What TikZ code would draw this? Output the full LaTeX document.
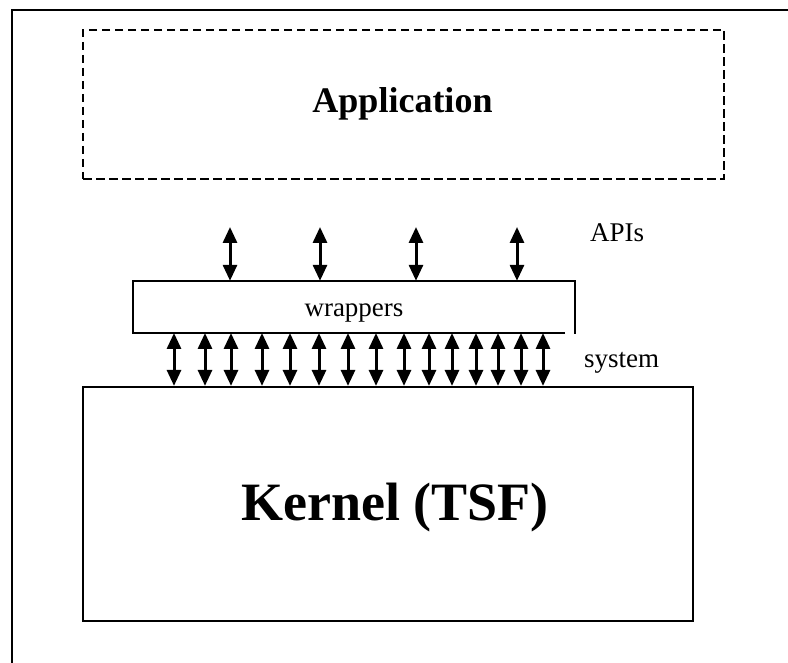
\documentclass[tikz,border=0pt]{standalone}
\usepackage{fontspec}
\setmainfont{Liberation Serif}
\usetikzlibrary{arrows.meta}
\begin{document}
\begin{tikzpicture}[x=1pt,y=-1pt,
  frame/.style={line width=2.4pt},
  boxline/.style={draw, line width=2.2pt, inner sep=0pt},
  dashbox/.style={draw, line width=2pt, inner sep=0pt, dash pattern=on 8.5pt off 4.5pt},
  dblarrow/.style={line width=3pt, {Triangle[length=16pt,width=14pt]}-{Triangle[length=16pt,width=14pt]}},
  small/.style={font=\fontsize{27}{30}\selectfont},
]
\useasboundingbox (0,0) rectangle (788,663);
% outer frame (only top and left visible)
\draw[frame] (12,663) -- (12,10) -- (790,10);

% Application box
\node[dashbox, minimum width=641pt, minimum height=149pt] (app) at (403.5,104.5) {};
\node[anchor=base, font=\bfseries\fontsize{36}{40}\selectfont] (apptext) at (402.5,113) {Application};

% wrappers box (bottom edge stops short of right edge)
\node[inner sep=0pt, minimum width=442pt, minimum height=52pt] (wrap) at (354,307) {};
\draw[line width=2pt] ([xshift=-10pt]wrap.south east) -- (wrap.south west) -- (wrap.north west) -- (wrap.north east) -- ([yshift=-1pt]wrap.south east);
\node[anchor=base, small] (wraptext) at (354,317) {wrappers};

% Kernel box
\node[boxline, minimum width=610pt, minimum height=234pt] (kernel) at (388,504) {};
\node[anchor=base, font=\bfseries\fontsize{54}{60}\selectfont] (kerneltext) at (395,520) {Kernel (TSF)};

% labels
\node[anchor=base west, small, inner sep=0pt] (apis) at (590,242) {APIs};
\node[anchor=base west, small, inner sep=0pt] (system) at (584,367) {system};

% API arrows
\foreach \x [count=\i] in {230,320,416,517} {
  \coordinate (api\i) at (\x,227);
  \draw[dblarrow] (api\i) -- (api\i |- wrap.north);
}

% system call arrows
\foreach \x [count=\i] in {174,205,231,262,290,319,348,376,404,429,452,476,498,521,543} {
  \coordinate (sys\i) at (\x,333);
  \draw[dblarrow] (sys\i) -- (sys\i |- kernel.north);
}
\end{tikzpicture}
\end{document}
